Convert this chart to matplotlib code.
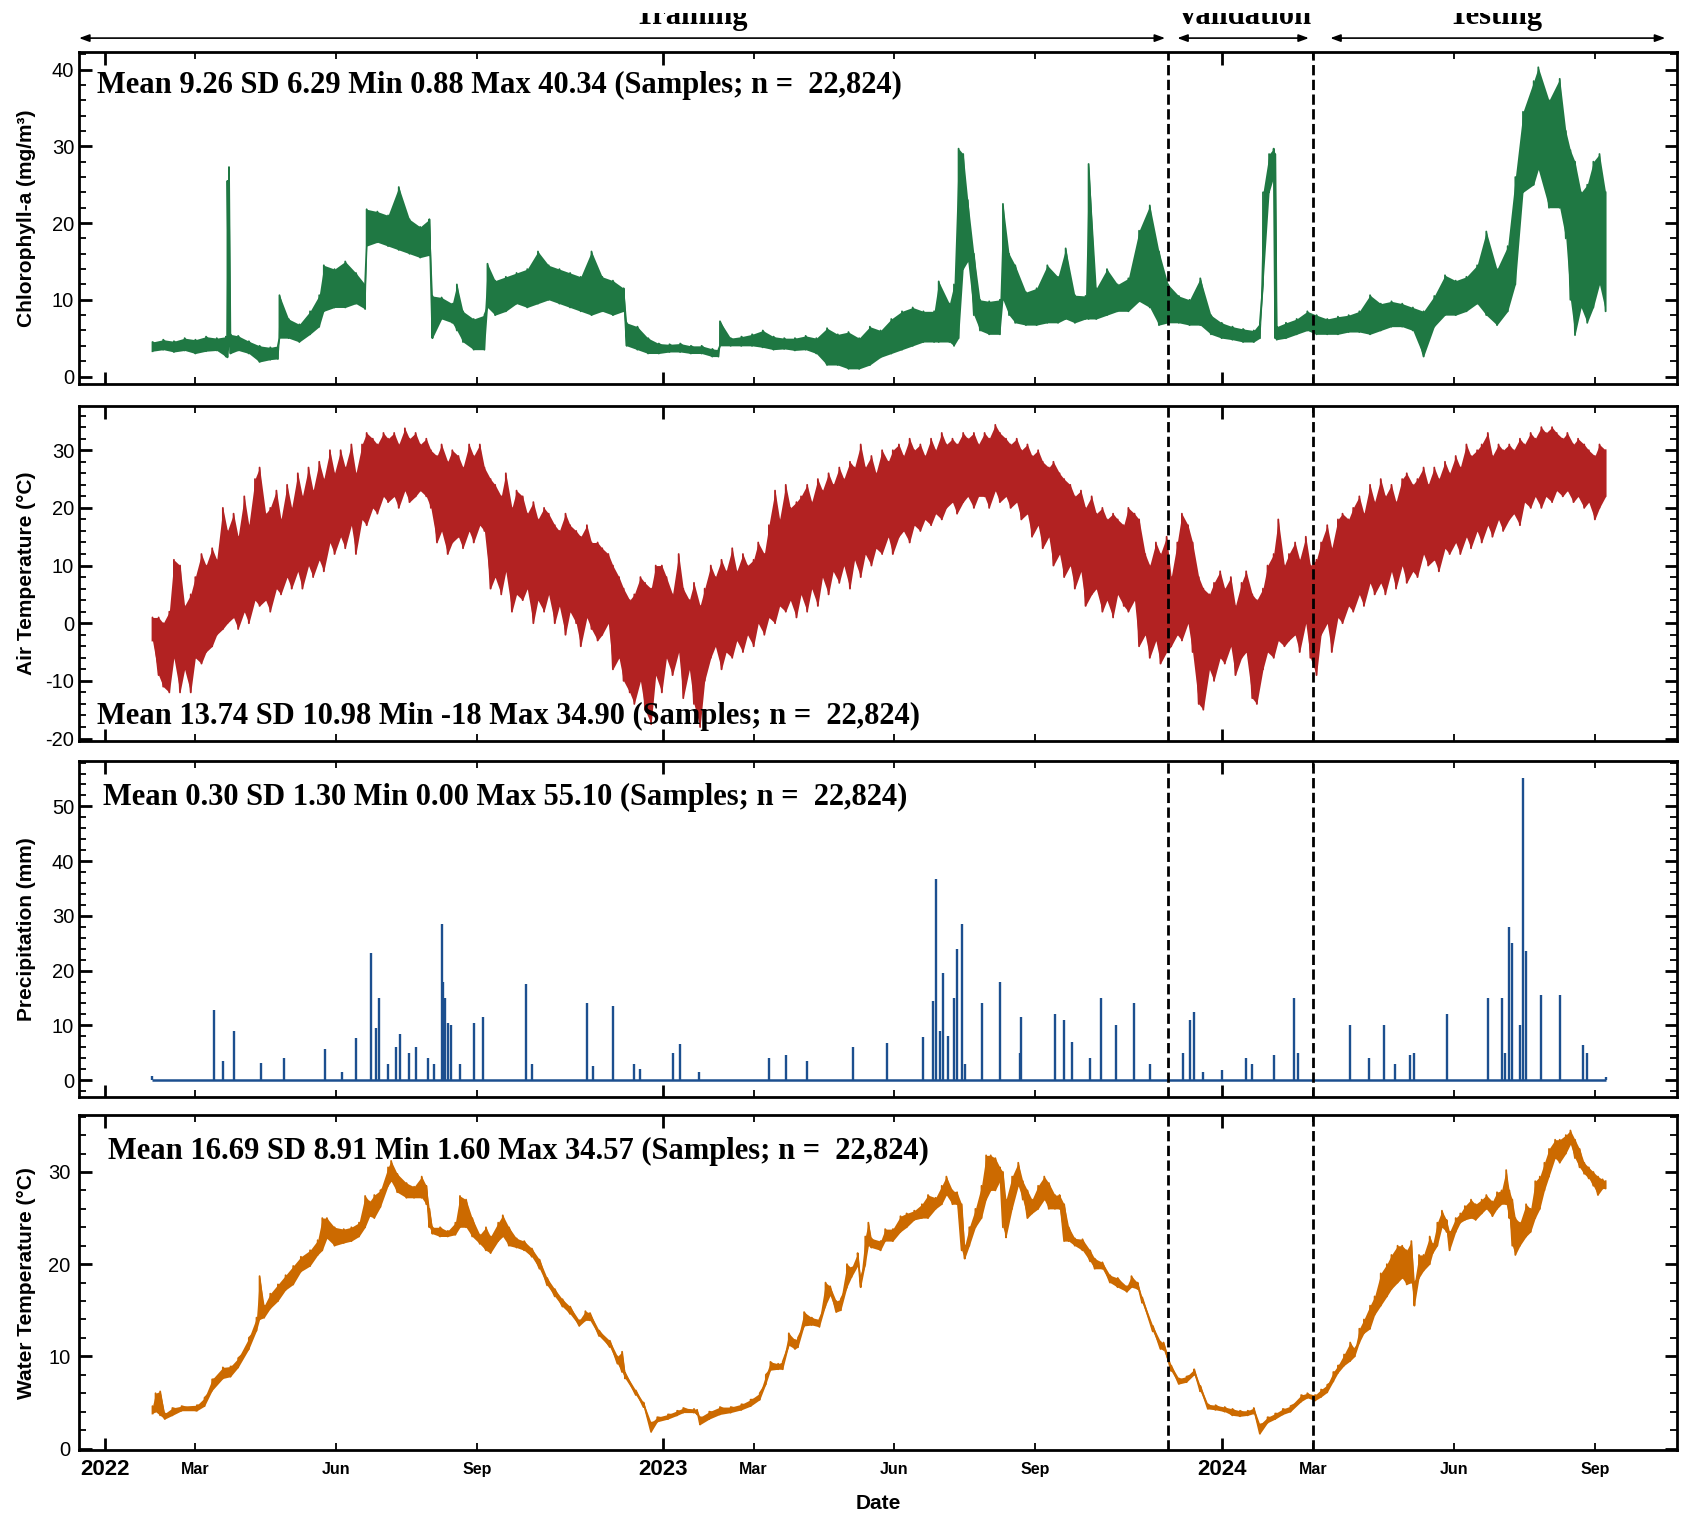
import numpy as np
import matplotlib.pyplot as plt
import matplotlib.transforms as mtransforms
from matplotlib.ticker import MultipleLocator

plt.rcParams['font.family'] = ['Liberation Sans', 'DejaVu Sans']
plt.rcParams['axes.unicode_minus'] = False

# day offsets from 2022-01-01, with the low / high envelope
start = np.datetime64('2022-01-01')

chl = np.array([
    (31, 3.3, 4.5), (38, 3.5, 4.8), (45, 3.2, 4.6), (52, 3.4, 5.0), (59, 3.0, 4.8),
    (66, 3.3, 5.2), (73, 3.4, 5.0), (79, 2.6, 5.2), (80, 2.5, 25.5), (81, 4.0, 27.3),
    (82, 3.0, 5.5), (87, 3.4, 5.3), (94, 3.0, 4.6), (101, 1.9, 4.0), (108, 2.2, 3.8),
    (113, 2.3, 4.0), (114, 5.0, 10.6), (120, 5.0, 7.5), (127, 4.5, 6.8), (134, 5.5, 8.5),
    (140, 6.5, 10.6), (143, 8.5, 14.5), (150, 9.0, 14.0), (157, 9.0, 15.0), (164, 9.5, 13.5),
    (170, 8.8, 12.0), (171, 17.0, 21.8), (178, 17.5, 21.5), (185, 17.0, 21.0), (192, 16.5, 24.7),
    (199, 16.0, 20.5), (206, 15.5, 19.5), (212, 15.8, 20.5), (214, 5.0, 10.5), (220, 7.5, 10.3),
    (227, 7.0, 9.5), (230, 6.0, 12.0), (234, 4.5, 8.5), (241, 3.5, 7.5), (248, 3.5, 8.0),
    (250, 9.0, 14.7), (255, 8.0, 12.5), (262, 8.5, 13.0), (269, 9.5, 13.5), (276, 9.0, 14.0),
    (283, 9.5, 16.3), (290, 10.0, 14.5), (297, 9.5, 14.0), (304, 9.0, 13.5), (311, 8.5, 13.0),
    (318, 8.0, 16.3), (325, 8.5, 13.0), (332, 8.0, 12.5), (339, 8.5, 11.5), (341, 4.0, 7.0),
    (348, 3.5, 6.5), (355, 3.0, 5.0), (362, 3.0, 4.3), (369, 3.2, 4.2), (376, 3.2, 4.3),
    (383, 3.0, 4.0), (390, 3.0, 4.0), (397, 2.6, 3.6), (401, 2.6, 3.5), (402, 4.0, 7.2),
    (409, 4.0, 5.0), (416, 4.0, 5.2), (423, 4.0, 5.5), (430, 3.8, 6.0), (437, 3.5, 5.2),
    (444, 3.6, 5.0), (451, 3.4, 5.0), (458, 3.5, 5.3), (465, 3.0, 5.0), (472, 1.5, 6.3),
    (479, 1.5, 5.5), (486, 1.0, 5.8), (493, 1.0, 5.0), (500, 1.5, 6.5), (507, 2.5, 6.0),
    (514, 3.0, 7.5), (521, 3.5, 8.5), (528, 4.0, 9.0), (535, 4.5, 8.5), (542, 4.5, 8.5),
    (545, 4.5, 12.4), (552, 4.5, 9.5), (555, 4.0, 12.0), (558, 5.0, 29.7), (561, 14.0, 29.0),
    (564, 15.0, 23.0), (568, 8.0, 16.0), (572, 6.0, 10.0), (578, 5.5, 9.8), (585, 5.5, 10.0),
    (587, 10.0, 22.5), (591, 8.0, 16.0), (595, 7.0, 14.5), (602, 6.7, 11.0), (609, 6.7, 11.5),
    (616, 7.0, 14.5), (623, 7.0, 13.0), (628, 7.5, 16.7), (634, 7.0, 10.6), (641, 7.5, 10.5),
    (643, 7.5, 27.7), (648, 7.5, 11.5), (655, 8.0, 14.0), (662, 8.5, 12.0), (669, 8.5, 12.8),
    (676, 9.8, 19.0), (683, 9.0, 22.3), (689, 6.7, 16.3), (695, 7.0, 12.0), (702, 7.0, 10.5),
    (709, 6.7, 10.0), (716, 6.7, 12.8), (723, 5.5, 8.0), (730, 5.0, 7.0), (737, 4.8, 6.5),
    (744, 4.5, 6.2), (751, 4.5, 6.0), (755, 5.0, 7.0), (757, 12.0, 24.0), (761, 24.0, 29.0),
    (764, 26.0, 29.7), (765, 5.0, 29.0), (766, 4.8, 6.5), (772, 5.0, 7.0), (779, 5.5, 7.5),
    (786, 6.0, 8.5), (792, 5.5, 8.0), (799, 5.5, 7.5), (806, 5.5, 7.8), (813, 5.8, 8.0),
    (820, 5.8, 8.5), (827, 5.5, 10.6), (834, 6.0, 9.5), (841, 6.5, 9.8), (848, 6.5, 9.5),
    (855, 6.0, 9.0), (862, 2.6, 8.5), (869, 6.5, 10.5), (876, 8.0, 13.2), (883, 8.0, 12.5),
    (890, 8.5, 13.0), (897, 9.5, 14.5), (903, 8.0, 18.9), (910, 6.7, 14.0), (917, 8.5, 17.0),
    (922, 12.0, 26.0), (927, 24.0, 34.5), (934, 25.0, 38.5), (937, 27.0, 40.3), (944, 22.0, 36.0),
    (951, 22.0, 38.8), (955, 18.0, 32.0), (958, 10.0, 29.5), (961, 5.4, 28.0), (965, 9.0, 24.0),
    (969, 7.0, 25.0), (973, 9.0, 28.0), (977, 12.0, 29.0), (981, 8.5, 24.0),
])

air = np.array([
    (31, -3, 1), (35, -9, 1), (38, -11, 0), (42, -12, 2), (45, -6, 11), (49, -12, 10),
    (52, -8, 3), (56, -12, 5), (59, -6, 8), (63, -7, 12), (66, -5, 10), (70, -4, 13),
    (73, -2, 11), (77, -1, 20), (80, 0, 16), (84, 1, 19), (87, -1, 15), (91, 2, 22),
    (94, 0, 17), (98, 4, 25), (101, 3, 27), (105, 4, 19), (108, 2, 20), (112, 6, 23),
    (115, 5, 18), (119, 8, 24), (122, 6, 20), (126, 9, 26), (129, 6, 22), (133, 10, 27),
    (136, 8, 23), (140, 11, 28), (143, 9, 25), (147, 14, 30), (150, 12, 26), (154, 15, 30),
    (157, 13, 27), (161, 17, 31), (164, 12, 26), (168, 18, 31), (171, 17, 33), (175, 20, 32),
    (178, 19, 31), (182, 22, 33), (185, 21, 32), (189, 22, 33), (192, 20, 31), (196, 23, 33.8),
    (199, 21, 32), (203, 22, 33), (206, 23, 31), (210, 22, 32), (213, 20, 30), (217, 14, 29),
    (220, 16, 31), (224, 12, 28), (227, 14, 30), (231, 15, 29), (234, 13, 27), (238, 16, 31),
    (241, 14, 29), (245, 17, 31), (248, 16, 27), (252, 6, 25), (255, 8, 24), (259, 5, 22),
    (262, 9, 26), (266, 2, 20), (269, 5, 23), (273, 4, 22), (276, 6, 19), (280, 0, 21),
    (283, 4, 18), (287, 2, 20), (290, 5, 19), (294, 0, 17), (297, 3, 16), (301, -2, 19),
    (304, 2, 17), (308, 0, 16), (311, -4, 15), (315, 1, 17), (318, -1, 14), (322, -3, 14),
    (325, -2, 13), (329, 0, 12), (332, -8, 10), (336, -6, 8), (339, -10, 6), (343, -12, 4),
    (346, -14, 5), (350, -10, 8), (353, -15, 7), (357, -17.5, 6), (360, -9, 10), (364, -12, 10),
    (367, -6, 8), (371, -9, 5), (375, -5, 12), (378, -13, 6), (382, -8, 4), (385, -14, 7),
    (389, -18, 3), (392, -10, 6), (396, -6, 10), (399, -4, 8), (403, -8, 11), (406, -5, 9),
    (410, -6, 13), (413, -3, 9), (417, -5, 12), (420, -2, 10), (424, -4, 11), (427, 0, 14),
    (431, -2, 12), (434, 1, 17), (438, 0, 23), (441, 3, 18), (445, 2, 24), (448, 4, 20),
    (452, 1, 21), (455, 5, 22), (459, 2, 24), (462, 6, 21), (466, 3, 25), (469, 8, 23),
    (473, 5, 26), (476, 9, 24), (480, 7, 27), (483, 10, 25), (487, 6, 28), (490, 11, 27),
    (494, 8, 31), (497, 12, 27), (501, 10, 29), (504, 13, 26), (508, 12, 30), (512, 15, 28),
    (515, 12, 30), (519, 15, 31), (522, 16, 29), (526, 14, 32), (529, 17, 30), (533, 16, 31),
    (536, 18, 29), (540, 17, 32), (543, 19, 30), (547, 18, 33), (550, 20, 31), (554, 21, 32),
    (557, 19, 31), (561, 21, 33), (564, 22, 32), (568, 20, 33), (571, 22, 31), (575, 22, 33),
    (578, 20, 32), (582, 23, 34.4), (585, 21, 33), (589, 22, 32), (592, 20, 31), (596, 21, 32),
    (599, 18, 30), (603, 19, 31), (606, 15, 29), (610, 17, 30), (613, 13, 28), (617, 15, 27),
    (620, 10, 28), (624, 12, 26), (627, 8, 25), (631, 10, 24), (634, 6, 22), (638, 9, 23),
    (641, 3, 20), (645, 5, 22), (648, 6, 19), (652, 2, 20), (655, 4, 18), (659, 1, 19),
    (662, 5, 18), (666, 3, 17), (669, 2, 20), (673, 4, 19), (676, -4, 18), (680, -2, 12),
    (683, -6, 10), (687, -3, 14), (690, -7, 12), (694, -5, 15), (697, -4, 8), (701, -2, 14),
    (704, -3, 19), (708, 0, 17), (711, -5, 14), (715, -14, 8), (718, -15, 6), (722, -8, 5),
    (725, -10, 7), (729, -6, 9), (732, -7, 6), (736, -4, 8), (739, -9, 3), (743, -6, 7),
    (746, -5, 9), (750, -13, 5), (753, -14, 4), (757, -8, 6), (760, -5, 10), (764, -6, 12),
    (767, -3, 18), (771, -4, 10), (774, -3, 12), (778, -2, 14), (781, -5, 11), (785, 0, 15),
    (788, -6, 10), (792, -9, 11), (795, -2, 14), (799, 0, 17), (802, -5, 13), (806, 1, 18),
    (809, 0, 19), (813, 3, 18), (816, 2, 20), (820, 5, 22), (823, 3, 19), (827, 7, 24),
    (830, 5, 21), (834, 7, 25), (837, 5, 22), (841, 9, 24), (844, 6, 21), (848, 10, 25),
    (851, 7, 26), (855, 9, 24), (858, 8, 25), (862, 12, 27), (865, 10, 24), (869, 11, 27),
    (872, 9, 25), (876, 13, 28), (879, 12, 26), (883, 14, 29), (886, 12, 27), (890, 15, 31),
    (893, 13, 29), (897, 16, 30), (900, 14, 31), (904, 17, 33), (907, 15, 29), (911, 18, 31),
    (914, 16, 30), (918, 18, 31), (921, 19, 30), (925, 17, 32), (928, 21, 31), (932, 20, 33),
    (935, 22, 32), (939, 20, 34), (942, 22, 33), (946, 21, 34), (949, 23, 33), (953, 22, 32),
    (956, 23, 33), (960, 21, 31), (963, 22, 32), (967, 20, 31), (970, 21, 30), (974, 18, 29),
    (977, 20, 31), (981, 22, 30),
])

water = np.array([
    (31, 3.8, 4.6), (33, 4.0, 6.0), (36, 3.6, 6.2), (39, 3.2, 3.8), (44, 3.6, 4.4),
    (50, 4.1, 4.6), (60, 4.1, 4.7), (65, 4.6, 5.5), (70, 6.3, 7.5), (77, 7.6, 8.8),
    (82, 7.8, 8.9), (87, 8.8, 9.8), (94, 10.8, 12.0), (99, 12.8, 14.2), (101, 14.0, 18.7),
    (104, 14.2, 15.5), (108, 15.2, 16.8), (113, 16.0, 17.8), (118, 17.2, 18.8), (123, 17.8, 19.8),
    (128, 19.2, 20.8), (134, 19.8, 21.5), (139, 21.0, 22.6), (142, 21.5, 25.0), (145, 22.8, 25.0),
    (150, 22.0, 24.0), (156, 22.3, 23.8), (161, 22.5, 24.0), (166, 23.0, 24.5), (170, 24.0, 27.4),
    (173, 25.2, 26.8), (176, 25.0, 27.5), (180, 26.2, 28.0), (185, 28.5, 30.5), (187, 29.0, 31.2),
    (191, 27.8, 29.8), (197, 27.2, 28.8), (202, 27.2, 28.4), (207, 27.2, 29.5), (210, 26.5, 28.5),
    (212, 24.0, 26.0), (214, 23.3, 24.0), (219, 23.0, 24.0), (224, 23.0, 23.6), (229, 23.2, 24.5),
    (232, 24.0, 27.4), (236, 24.0, 27.0), (240, 23.0, 25.0), (245, 22.2, 23.2), (249, 21.5, 24.0),
    (252, 21.2, 23.0), (257, 22.5, 24.5), (260, 23.0, 25.3), (264, 22.0, 24.0), (269, 21.8, 22.8),
    (274, 21.5, 22.5), (279, 20.8, 21.7), (284, 19.5, 20.5), (289, 17.7, 18.5), (294, 16.5, 17.3),
    (299, 15.4, 16.2), (304, 14.6, 15.4), (310, 13.3, 13.9), (314, 13.9, 14.9), (317, 13.9, 14.7),
    (323, 12.2, 12.8), (330, 11.0, 11.7), (335, 9.2, 10.0), (338, 8.3, 10.5), (340, 7.6, 8.2),
    (347, 5.8, 6.3), (352, 4.5, 5.0), (357, 1.8, 2.8), (361, 2.9, 3.4), (368, 3.2, 3.7),
    (374, 3.6, 4.1), (378, 3.9, 4.4), (385, 3.9, 4.3), (387, 3.7, 4.2), (389, 2.6, 3.4),
    (395, 3.2, 4.0), (402, 3.7, 4.5), (409, 3.9, 4.5), (416, 4.2, 4.8), (422, 4.6, 5.3),
    (428, 5.3, 6.0), (432, 7.0, 8.0), (435, 8.5, 9.4), (440, 8.6, 9.2), (443, 8.6, 9.4),
    (447, 11.2, 12.5), (451, 10.8, 11.8), (453, 11.0, 12.0), (457, 13.3, 14.8), (462, 13.4, 14.2),
    (467, 13.2, 14.0), (471, 15.5, 18.0), (474, 16.6, 17.6), (478, 14.8, 16.0), (481, 15.0, 16.2),
    (485, 17.5, 20.0), (488, 18.6, 19.6), (492, 19.8, 21.2), (494, 17.5, 18.5), (497, 20.0, 23.0),
    (499, 22.0, 24.5), (501, 21.8, 22.8), (507, 21.5, 22.5), (510, 22.5, 23.8), (515, 22.5, 23.8),
    (520, 23.5, 25.2), (524, 24.0, 25.5), (529, 24.8, 25.8), (534, 25.0, 26.5), (538, 25.0, 27.5),
    (543, 26.0, 27.2), (547, 26.5, 28.5), (550, 27.5, 29.5), (554, 26.5, 28.0), (557, 26.5, 27.8),
    (560, 21.5, 26.5), (562, 20.6, 22.0), (565, 22.0, 24.0), (569, 24.0, 26.0), (573, 25.0, 28.5),
    (576, 27.0, 31.8), (579, 28.0, 31.8), (582, 28.0, 31.5), (585, 29.0, 30.5), (587, 24.0, 30.0),
    (589, 22.9, 27.0), (593, 26.0, 29.5), (597, 28.5, 31.0), (600, 27.0, 29.0), (603, 25.0, 28.0),
    (606, 25.5, 27.0), (610, 26.0, 28.5), (614, 27.0, 29.5), (617, 26.0, 28.8), (621, 26.0, 27.5),
    (624, 26.0, 27.5), (627, 22.5, 26.5), (630, 22.5, 24.0), (634, 22.0, 22.8), (639, 21.5, 22.7),
    (644, 20.3, 21.5), (647, 19.5, 20.6), (652, 19.5, 20.2), (657, 18.0, 18.8), (662, 17.5, 18.5),
    (668, 17.0, 17.6), (671, 17.5, 18.7), (675, 17.3, 18.0), (678, 15.8, 16.4), (685, 12.7, 13.3),
    (690, 10.8, 11.6), (692, 10.7, 11.5), (697, 8.4, 9.0), (702, 7.0, 7.6), (707, 7.2, 7.8),
    (712, 8.0, 8.6), (716, 6.2, 6.8), (721, 4.3, 4.8), (726, 4.2, 4.7), (732, 4.0, 4.5),
    (737, 3.6, 4.3), (742, 3.5, 4.1), (747, 3.6, 4.1), (751, 3.8, 4.4), (755, 1.6, 2.6),
    (760, 2.8, 3.4), (765, 3.2, 3.8), (770, 3.7, 4.3), (775, 4.0, 4.6), (782, 5.1, 5.8),
    (786, 5.5, 6.0), (791, 5.2, 5.8), (795, 5.6, 6.4), (799, 6.1, 6.9), (803, 7.3, 8.3),
    (806, 8.2, 9.0), (810, 9.0, 10.2), (814, 9.5, 11.5), (817, 10.0, 10.8), (820, 11.5, 13.0),
    (823, 12.5, 14.0), (827, 13.0, 15.5), (830, 14.5, 16.5), (834, 15.5, 19.0), (838, 16.5, 20.0),
    (841, 17.3, 21.0), (845, 18.0, 22.0), (848, 18.5, 22.0), (851, 17.8, 21.5), (854, 18.0, 22.5),
    (856, 15.5, 18.0), (859, 18.5, 21.0), (862, 19.3, 21.0), (866, 20.0, 23.0), (868, 21.2, 22.2),
    (871, 22.0, 24.5), (874, 24.0, 25.8), (877, 23.5, 24.8), (879, 21.5, 23.5), (883, 23.5, 25.0),
    (886, 24.5, 25.5), (889, 24.8, 26.3), (893, 25.0, 27.0), (896, 24.8, 26.5), (900, 25.5, 27.0),
    (903, 26.0, 27.5), (907, 25.2, 26.8), (910, 26.0, 27.8), (913, 26.5, 28.0), (916, 26.5, 30.2),
    (918, 25.0, 28.0), (920, 22.0, 27.0), (922, 21.0, 25.0), (925, 22.0, 24.5), (929, 23.0, 26.5),
    (932, 23.5, 26.0), (935, 25.0, 29.0), (938, 26.0, 29.5), (941, 28.0, 31.0), (944, 29.5, 32.5),
    (948, 31.5, 33.5), (951, 31.0, 33.5), (955, 32.0, 34.0), (958, 33.0, 34.5), (961, 31.5, 33.5),
    (964, 30.5, 32.5), (967, 29.8, 31.0), (970, 29.3, 30.5), (973, 28.5, 30.0), (976, 27.5, 29.5),
    (979, 28.2, 29.2), (981, 28.2, 29.0),
])

# precipitation events: (day offset, mm)
rain = np.array([
    (31, 0.8), (71, 12.8), (77, 3.5), (84, 9.0), (102, 3.2), (117, 4.0), (144, 5.6),
    (155, 1.5), (164, 7.7), (174, 23.3), (177, 9.5), (179, 15.0), (185, 3.0), (190, 6.0),
    (193, 8.5), (199, 5.0), (203, 6.0), (211, 4.0), (215, 3.0), (220, 28.5), (221, 18.0),
    (222, 15.0), (224, 10.5), (226, 10.0), (232, 3.0), (241, 10.5), (247, 11.5), (275, 17.5),
    (279, 3.0), (315, 14.0), (319, 2.5), (332, 13.5), (346, 3.0), (350, 2.0), (371, 5.0),
    (376, 6.6), (388, 1.5), (434, 4.0), (445, 4.5), (459, 3.5), (489, 6.0), (511, 6.8),
    (535, 7.8), (541, 14.5), (543, 36.7), (546, 9.0), (548, 19.5), (551, 8.0), (555, 15.0),
    (557, 24.0), (560, 28.5), (562, 3.0), (573, 14.0), (585, 18.0), (598, 5.0), (599, 11.5),
    (621, 12.0), (627, 11.0), (632, 7.0), (644, 4.0), (651, 15.0), (661, 10.0), (673, 14.0),
    (683, 3.0), (705, 5.0), (709, 11.0), (712, 12.5), (718, 1.5), (730, 1.8), (746, 4.0),
    (750, 3.0), (764, 4.5), (777, 15.0), (780, 5.0), (814, 10.0), (826, 4.0), (836, 10.0),
    (843, 3.0), (853, 4.5), (856, 5.0), (877, 12.0), (904, 15.0), (913, 15.0), (915, 5.0),
    (918, 28.0), (920, 25.0), (925, 10.0), (927, 55.1), (929, 23.5), (939, 15.5), (951, 15.5),
    (966, 6.5), (969, 5.0), (981, 0.5),
])

chl_stats = 'Mean 9.26 SD 6.29 Min 0.88 Max 40.34 (Samples; n =  22,824)'
air_stats = 'Mean 13.74 SD 10.98 Min -18 Max 34.90 (Samples; n =  22,824)'
rain_stats = 'Mean 0.30 SD 1.30 Min 0.00 Max 55.10 (Samples; n =  22,824)'
water_stats = 'Mean 16.69 SD 8.91 Min 1.60 Max 34.57 (Samples; n =  22,824)'

ylabels = ['Chlorophyll-a (mg/m³)', 'Air Temperature (°C)', 'Precipitation (mm)', 'Water Temperature (°C)']
split_dates = ['2023-11-27', '2024-03-01']
year_ticks = ['2022-01-01', '2023-01-01', '2024-01-01']
year_labels = ['2022', '2023', '2024']
month_ticks = ['2022-03-01', '2022-06-01', '2022-09-01', '2023-03-01', '2023-06-01',
               '2023-09-01', '2024-03-01', '2024-06-01', '2024-09-01']
month_labels = ['Mar', 'Jun', 'Sep'] * 3

green = '#1f7843'
red = '#b22222'
blue = '#1c4f8f'
orange = '#cc6a00'


def to_dates(days):
    return start + np.asarray(days).astype(int).astype('timedelta64[D]')


def band(ax, table, color):
    t = to_dates(table[:, 0])
    lo, hi = table[:, 1], table[:, 2]
    ax.fill_between(t, lo, hi, color=color, lw=0)
    ax.plot(np.repeat(t, 2), np.column_stack([lo, hi]).ravel(), color=color, lw=1.3)


fig = plt.figure(figsize=(16.97, 15.24), dpi=100)
left, width = 0.0466, 0.9419
ax1 = fig.add_axes([left, 0.7479, width, 0.2180])
ax2 = fig.add_axes([left, 0.5135, width, 0.2202])
ax3 = fig.add_axes([left, 0.2805, width, 0.2202])
ax4 = fig.add_axes([left, 0.0483, width, 0.2202])
axes = [ax1, ax2, ax3, ax4]

band(ax1, chl, green)
band(ax2, air, red)
ax3.hlines(0, to_dates([31])[0], to_dates([981])[0], color=blue, lw=1.8)
ax3.vlines(to_dates(rain[:, 0]), 0, rain[:, 1], color=blue, lw=1.7)
band(ax4, water, orange)

ylims = [(-1.0, 42.3), (-20.5, 37.7), (-3.0, 58.3), (-0.2, 36.2)]
yticks = [[0, 10, 20, 30, 40], [-20, -10, 0, 10, 20, 30], [0, 10, 20, 30, 40, 50], [0, 10, 20, 30]]
stats = [(chl_stats, 0.011, 0.90), (air_stats, 0.011, 0.075),
         (rain_stats, 0.015, 0.89), (water_stats, 0.018, 0.89)]

for ax, lab, yl, yt, st in zip(axes, ylabels, ylims, yticks, stats):
    ax.set_xlim(np.datetime64('2021-12-15'), np.datetime64('2024-10-25'))
    ax.set_ylim(*yl)
    ax.set_yticks(yt)
    ax.yaxis.set_minor_locator(MultipleLocator(2))
    ax.set_xticks(np.array(year_ticks, dtype='datetime64[D]'))
    ax.set_xticks(np.array(month_ticks, dtype='datetime64[D]'), minor=True)
    ax.tick_params(which='both', direction='in', top=True, right=True, labelsize=14.5)
    ax.tick_params(which='major', length=9, width=2)
    ax.tick_params(which='minor', length=5, width=1.3)
    for sp in ax.spines.values():
        sp.set_linewidth(2)
    for d in split_dates:
        ax.axvline(np.datetime64(d), color='k', ls='--', lw=2, zorder=5)
    ax.set_ylabel(lab, fontsize=15, fontweight='bold')
    ax.yaxis.set_label_coords(-0.027, 0.5)
    ax.text(st[1], st[2], st[0], transform=ax.transAxes, va='center',
            fontfamily='Liberation Serif', fontweight='bold', fontsize=22, zorder=6)
    if ax is not ax4:
        ax.tick_params(which='both', labelbottom=False)

ax4.set_xticks(np.array(year_ticks, dtype='datetime64[D]'), year_labels,
               fontsize=16, fontweight='bold')
ax4.set_xticks(np.array(month_ticks, dtype='datetime64[D]'), month_labels, minor=True,
               fontsize=11.5, fontweight='bold')
ax4.tick_params(which='major', pad=6)
ax4.tick_params(which='minor', pad=8)
ax4.set_xlabel('Date', fontsize=15, fontweight='bold', labelpad=10)

# split arrows above the top panel
arrow_y = 0.975
segments = [('2021-12-15', '2023-11-25', '2023-01-19', 'Training'),
            ('2023-12-03', '2024-02-27', '2024-01-16', 'Validation'),
            ('2024-03-12', '2024-10-17', '2024-06-28', 'Testing')]
head = dict(arrowstyle='<|-|>,head_length=0.6,head_width=0.22', color='k', lw=1.2,
            shrinkA=0, shrinkB=0)
trans = mtransforms.blended_transform_factory(ax1.transData, fig.transFigure)
clip = mtransforms.TransformedBbox(mtransforms.Bbox([[0, 0], [1, 0.9915]]), fig.transFigure)
for a, b, c, name in segments:
    ax1.annotate('', xy=(np.datetime64(b), arrow_y), xytext=(np.datetime64(a), arrow_y),
                 xycoords=trans, textcoords=trans, arrowprops=head, annotation_clip=False)
    t = ax1.text(np.datetime64(c), 0.9845, name, transform=trans, ha='center', va='baseline',
                 fontfamily='Liberation Serif', fontweight='bold', fontsize=22, clip_on=True)
    t.set_clip_box(clip)

fig.savefig('out.png', dpi=100)
